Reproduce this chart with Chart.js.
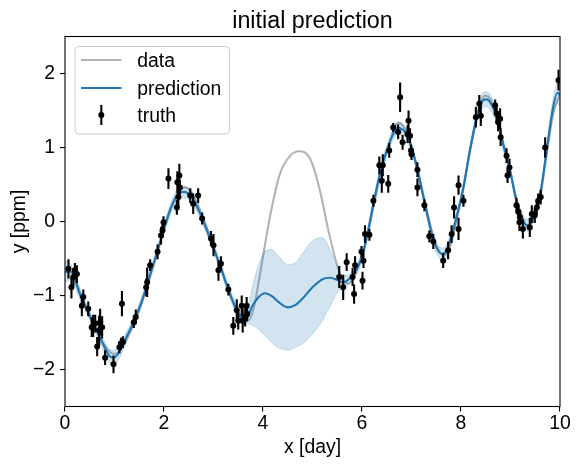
<!DOCTYPE html>
<html>
<head>
<meta charset="utf-8">
<script src="https://cdn.jsdelivr.net/npm/chart.js@4.4.0/dist/chart.umd.min.js"></script>
<style>
  html, body { margin: 0; padding: 0; background: #fff; }
  #wrap { width: 581px; height: 465px; position: relative; }
</style>
</head>
<body>
<div id="wrap"><canvas id="c" width="581" height="465"></canvas></div>
<script>
// ---- data ----
const chartTitle = "initial prediction";
const xLabel = "x [day]";
const yLabel = "y [ppm]";
const xTicks = [0, 2, 4, 6, 8, 10];
const yTicks = [-2, -1, 0, 1, 2];

// gray "data" curve (true signal)
const dataX = [0.0, 0.15, 0.3, 0.45, 0.6, 0.75, 0.9, 1.0, 1.1, 1.25, 1.4, 1.55, 1.7, 1.85, 2.0, 2.15, 2.3, 2.42, 2.55, 2.7, 2.85, 3.0, 3.15, 3.3, 3.45, 3.6, 3.72, 3.82, 3.94, 4.14, 4.34, 4.55, 4.73, 4.95, 5.15, 5.32, 5.49, 5.62, 5.72, 5.83, 5.95, 6.1, 6.25, 6.4, 6.55, 6.68, 6.75, 6.85, 7.0, 7.15, 7.3, 7.45, 7.58, 7.68, 7.8, 7.92, 8.05, 8.2, 8.35, 8.48, 8.6, 8.72, 8.85, 9.0, 9.12, 9.25, 9.35, 9.45, 9.6, 9.73, 9.86, 10.0];
const dataY = [-0.63, -0.70, -0.95, -1.20, -1.42, -1.62, -1.76, -1.79, -1.75, -1.58, -1.36, -1.10, -0.78, -0.45, -0.10, 0.20, 0.40, 0.46, 0.40, 0.20, -0.06, -0.34, -0.62, -0.92, -1.17, -1.31, -1.33, -1.15, -0.71, 0.06, 0.64, 0.89, 0.95, 0.85, 0.42, -0.12, -0.57, -0.80, -0.84, -0.76, -0.55, -0.22, 0.25, 0.70, 1.05, 1.30, 1.33, 1.27, 1.02, 0.62, 0.18, -0.22, -0.42, -0.45, -0.30, 0.05, 0.48, 1.02, 1.50, 1.70, 1.65, 1.42, 1.06, 0.66, 0.30, 0.02, -0.07, 0.02, 0.33, 0.90, 1.45, 1.72];

// blue prediction mean and its standard deviation
const predX = [0.0, 0.12, 0.3, 0.45, 0.6, 0.75, 0.9, 0.98, 1.08, 1.25, 1.4, 1.55, 1.7, 1.85, 2.0, 2.15, 2.3, 2.4, 2.55, 2.7, 2.85, 3.0, 3.15, 3.3, 3.45, 3.6, 3.68, 3.78, 3.9, 4.04, 4.18, 4.3, 4.5, 4.65, 4.8, 5.0, 5.2, 5.35, 5.5, 5.6, 5.7, 5.8, 5.9, 6.0, 6.1, 6.23, 6.36, 6.5, 6.63, 6.73, 6.8, 6.87, 7.0, 7.14, 7.27, 7.41, 7.5, 7.62, 7.7, 7.78, 7.91, 8.05, 8.18, 8.32, 8.45, 8.52, 8.59, 8.72, 8.85, 8.99, 9.12, 9.26, 9.33, 9.4, 9.46, 9.6, 9.73, 9.86, 9.95, 10.0];
const predY = [-0.68, -0.68, -0.98, -1.20, -1.42, -1.63, -1.82, -1.84, -1.78, -1.55, -1.34, -1.08, -0.76, -0.44, -0.10, 0.20, 0.38, 0.40, 0.34, 0.15, -0.09, -0.36, -0.63, -0.92, -1.17, -1.33, -1.30, -1.15, -1.03, -0.97, -1.01, -1.08, -1.16, -1.13, -1.04, -0.89, -0.78, -0.76, -0.79, -0.82, -0.80, -0.73, -0.64, -0.48, -0.20, 0.24, 0.64, 0.96, 1.18, 1.27, 1.25, 1.21, 1.00, 0.64, 0.24, -0.17, -0.35, -0.44, -0.40, -0.26, 0.06, 0.46, 0.96, 1.41, 1.64, 1.65, 1.61, 1.41, 1.05, 0.69, 0.28, 0.01, -0.05, -0.03, 0.06, 0.37, 0.96, 1.54, 1.74, 1.71];
const predSd = [0.15, 0.10, 0.07, 0.06, 0.06, 0.07, 0.09, 0.10, 0.09, 0.07, 0.06, 0.06, 0.06, 0.06, 0.06, 0.07, 0.08, 0.08, 0.07, 0.06, 0.06, 0.06, 0.06, 0.06, 0.06, 0.06, 0.08, 0.25, 0.42, 0.57, 0.63, 0.62, 0.58, 0.57, 0.61, 0.63, 0.56, 0.39, 0.17, 0.09, 0.07, 0.06, 0.06, 0.06, 0.06, 0.06, 0.06, 0.06, 0.07, 0.08, 0.08, 0.07, 0.06, 0.06, 0.06, 0.06, 0.07, 0.08, 0.08, 0.07, 0.06, 0.06, 0.07, 0.08, 0.10, 0.10, 0.10, 0.08, 0.07, 0.06, 0.06, 0.07, 0.08, 0.08, 0.07, 0.07, 0.08, 0.11, 0.14, 0.16];

// black "truth" observations with error bars
const truthX = [0.07, 0.13, 0.17, 0.20, 0.24, 0.34, 0.37, 0.47, 0.54, 0.57, 0.61, 0.65, 0.69, 0.71, 0.75, 0.81, 0.98, 1.10, 1.13, 1.15, 1.17, 1.39, 1.43, 1.64, 1.66, 1.72, 1.87, 1.94, 1.97, 1.99, 2.09, 2.26, 2.27, 2.29, 2.31, 2.32, 2.53, 2.59, 2.69, 2.77, 2.95, 3.00, 3.10, 3.15, 3.30, 3.40, 3.47, 3.50, 3.57, 3.59, 3.64, 3.67, 3.68, 5.54, 5.62, 5.69, 5.81, 5.84, 5.86, 5.99, 6.01, 6.03, 6.06, 6.15, 6.23, 6.35, 6.40, 6.42, 6.53, 6.55, 6.63, 6.73, 6.77, 6.82, 6.92, 6.94, 6.97, 6.99, 7.00, 7.12, 7.12, 7.26, 7.36, 7.44, 7.64, 7.74, 7.81, 7.86, 7.95, 7.95, 8.05, 8.30, 8.37, 8.40, 8.69, 8.72, 8.75, 8.79, 8.80, 8.92, 8.94, 8.98, 9.12, 9.16, 9.18, 9.19, 9.25, 9.39, 9.43, 9.49, 9.53, 9.56, 9.61, 9.70, 9.97];
const truthY = [-0.64, -0.89, -0.75, -0.66, -0.71, -1.14, -1.02, -1.18, -1.43, -1.41, -1.38, -1.69, -1.47, -1.36, -1.43, -1.84, -1.93, -1.70, -1.65, -1.11, -1.63, -1.36, -1.29, -0.89, -0.82, -0.59, -0.41, -0.19, -0.12, -0.01, 0.58, 0.19, 0.53, 0.33, 0.62, 0.46, 0.35, 0.24, 0.35, 0.04, -0.23, -0.32, -0.66, -0.57, -0.92, -1.41, -1.20, -1.34, -1.14, -1.34, -1.29, -1.14, -1.25, -0.75, -0.89, -0.55, -0.75, -0.98, -0.59, -0.41, -0.80, -0.53, -0.17, -0.18, 0.28, 0.76, 0.55, 0.76, 0.51, 0.96, 1.27, 1.21, 1.68, 1.07, 1.18, 1.36, 1.16, 0.96, 0.91, 0.70, 0.46, 0.22, -0.20, -0.27, -0.53, -0.39, -0.17, 0.19, 0.49, -0.10, 0.28, 1.41, 1.59, 1.43, 1.57, 1.46, 1.34, 1.39, 1.14, 0.89, 0.62, 0.73, 0.22, 0.13, -0.01, 0.06, -0.10, -0.08, 0.10, 0.08, 0.19, 0.28, 0.33, 1.00, 1.91];
const truthErr = [0.13, 0.15, 0.12, 0.10, 0.12, 0.14, 0.10, 0.10, 0.13, 0.15, 0.12, 0.13, 0.20, 0.18, 0.15, 0.10, 0.12, 0.08, 0.08, 0.17, 0.08, 0.08, 0.10, 0.12, 0.20, 0.08, 0.10, 0.12, 0.10, 0.08, 0.14, 0.10, 0.15, 0.12, 0.16, 0.10, 0.10, 0.14, 0.10, 0.08, 0.10, 0.15, 0.14, 0.10, 0.08, 0.12, 0.15, 0.12, 0.14, 0.16, 0.13, 0.12, 0.10, 0.15, 0.17, 0.12, 0.12, 0.13, 0.12, 0.08, 0.12, 0.10, 0.12, 0.08, 0.08, 0.12, 0.16, 0.15, 0.12, 0.10, 0.06, 0.10, 0.20, 0.10, 0.12, 0.14, 0.10, 0.08, 0.08, 0.10, 0.12, 0.08, 0.08, 0.10, 0.10, 0.12, 0.12, 0.15, 0.13, 0.15, 0.08, 0.14, 0.12, 0.14, 0.08, 0.12, 0.12, 0.14, 0.12, 0.10, 0.10, 0.12, 0.10, 0.10, 0.12, 0.10, 0.13, 0.13, 0.12, 0.10, 0.10, 0.10, 0.10, 0.14, 0.14];

// ---- styling ----
const FONT = "'Liberation Sans', Arial, sans-serif";
const GRAY = "#b3b3b3";
const BLUE = "#1f77b4";
const BAND = "rgba(31,119,180,0.2)";
const BAND_EDGE = "rgba(31,119,180,0.22)";

const pts = (xs, ys) => xs.map((x, i) => ({ x: x, y: ys[i] }));
const upper = predX.map((x, i) => ({ x: x, y: predY[i] + predSd[i] }));
const lower = predX.map((x, i) => ({ x: x, y: predY[i] - predSd[i] }));
const truthPts = truthX.map((x, i) => ({ x: x, y: truthY[i], err: truthErr[i] }));

const errorBars = {
  id: 'errorBars',
  afterDatasetsDraw(chart) {
    const ctx = chart.ctx, xs = chart.scales.x, ys = chart.scales.y, a = chart.chartArea;
    ctx.save();
    ctx.beginPath();
    ctx.rect(a.left, a.top, a.right - a.left, a.bottom - a.top);
    ctx.clip();
    ctx.strokeStyle = '#000';
    ctx.lineWidth = 2.1;
    truthPts.forEach(p => {
      const px = xs.getPixelForValue(p.x);
      ctx.beginPath();
      ctx.moveTo(px, ys.getPixelForValue(p.y - p.err));
      ctx.lineTo(px, ys.getPixelForValue(p.y + p.err));
      ctx.stroke();
    });
    ctx.fillStyle = '#000';
    truthPts.forEach(p => {
      ctx.beginPath();
      ctx.arc(xs.getPixelForValue(p.x), ys.getPixelForValue(p.y), 3.0, 0, Math.PI * 2);
      ctx.fill();
    });
    ctx.restore();
  }
};

const frameTitleLegend = {
  id: 'frameTitleLegend',
  afterDraw(chart) {
    const ctx = chart.ctx, a = chart.chartArea;
    ctx.save();
    // spines
    ctx.strokeStyle = '#000';
    ctx.lineWidth = 1.1;
    ctx.strokeRect(a.left, a.top, a.right - a.left, a.bottom - a.top);
    // title
    ctx.fillStyle = '#000';
    ctx.font = "23.3px " + FONT;
    ctx.textAlign = 'center';
    ctx.textBaseline = 'alphabetic';
    ctx.fillText(chartTitle, (a.left + a.right) / 2, 28);
    // legend box
    const bx = 75, by = 46.5, bw = 154.5, bh = 87.5, r = 4;
    ctx.beginPath();
    ctx.moveTo(bx + r, by);
    ctx.lineTo(bx + bw - r, by);
    ctx.quadraticCurveTo(bx + bw, by, bx + bw, by + r);
    ctx.lineTo(bx + bw, by + bh - r);
    ctx.quadraticCurveTo(bx + bw, by + bh, bx + bw - r, by + bh);
    ctx.lineTo(bx + r, by + bh);
    ctx.quadraticCurveTo(bx, by + bh, bx, by + bh - r);
    ctx.lineTo(bx, by + r);
    ctx.quadraticCurveTo(bx, by, bx + r, by);
    ctx.closePath();
    ctx.fillStyle = 'rgba(255,255,255,0.8)';
    ctx.fill();
    ctx.strokeStyle = '#cccccc';
    ctx.lineWidth = 1;
    ctx.stroke();
    const items = [
      { label: 'data', kind: 'line', color: GRAY, y: 60 },
      { label: 'prediction', kind: 'line', color: BLUE, y: 88 },
      { label: 'truth', kind: 'err', color: '#000', y: 115 }
    ];
    items.forEach(it => {
      if (it.kind === 'line') {
        ctx.strokeStyle = it.color;
        ctx.lineWidth = 2.1;
        ctx.beginPath();
        ctx.moveTo(81, it.y);
        ctx.lineTo(121.5, it.y);
        ctx.stroke();
      } else {
        ctx.strokeStyle = '#000';
        ctx.lineWidth = 2.1;
        ctx.beginPath();
        ctx.moveTo(101.3, it.y - 10);
        ctx.lineTo(101.3, it.y + 10);
        ctx.stroke();
        ctx.fillStyle = '#000';
        ctx.beginPath();
        ctx.arc(101.3, it.y, 3.0, 0, Math.PI * 2);
        ctx.fill();
      }
      ctx.fillStyle = '#000';
      ctx.font = "19.4px " + FONT;
      ctx.textAlign = 'left';
      ctx.textBaseline = 'alphabetic';
      ctx.fillText(it.label, 137.3, it.y + 6.8);
    });
    ctx.restore();
  }
};

const tickFont = { family: FONT, size: 19.4 };

new Chart(document.getElementById('c'), {
  type: 'scatter',
  data: {
    datasets: [
      { label: 'truth', data: truthPts, pointRadius: 0, showLine: false, order: 0 },
      { label: 'prediction', data: pts(predX, predY), showLine: true, borderColor: BLUE, borderWidth: 2.1,
        pointRadius: 0, fill: false, cubicInterpolationMode: 'monotone', order: 1 },
      { label: 'upper', data: upper, showLine: true, borderColor: BAND_EDGE, borderWidth: 1,
        backgroundColor: BAND, pointRadius: 0, fill: '+1', cubicInterpolationMode: 'monotone', order: 2 },
      { label: 'lower', data: lower, showLine: true, borderColor: BAND_EDGE, borderWidth: 1,
        pointRadius: 0, fill: false, cubicInterpolationMode: 'monotone', order: 2 },
      { label: 'data', data: pts(dataX, dataY), showLine: true, borderColor: GRAY, borderWidth: 2.1,
        pointRadius: 0, fill: false, cubicInterpolationMode: 'monotone', order: 3 }
    ]
  },
  options: {
    responsive: false,
    animation: false,
    devicePixelRatio: 1,
    layout: { padding: { top: 36.5, right: 21, bottom: 0, left: 0 } },
    plugins: { legend: { display: false }, tooltip: { enabled: false }, title: { display: false } },
    scales: {
      x: {
        type: 'linear', min: 0, max: 10,
        afterFit: s => { s.height = 58.5; },
        afterBuildTicks: s => { s.ticks = xTicks.map(v => ({ value: v })); },
        ticks: { font: tickFont, color: '#000', padding: 1, maxRotation: 0, autoSkip: false,
                 callback: v => String(v) },
        grid: { display: true, drawOnChartArea: false, drawTicks: true, tickLength: 5, color: '#000', lineWidth: 1.1 },
        border: { display: false },
        title: { display: true, text: xLabel, font: { family: FONT, size: 19.4 }, color: '#000', padding: { top: 0, bottom: 6 } }
      },
      y: {
        type: 'linear', min: -2.5, max: 2.5,
        afterFit: s => { s.width = 65; },
        afterBuildTicks: s => { s.ticks = yTicks.map(v => ({ value: v })); },
        ticks: { font: tickFont, color: '#000', padding: 5, autoSkip: false,
                 callback: v => String(v).replace('-', '\u2212') },
        grid: { display: true, drawOnChartArea: false, drawTicks: true, tickLength: 5, color: '#000', lineWidth: 1.1 },
        border: { display: false },
        title: { display: true, text: yLabel, font: { family: FONT, size: 19.4 }, color: '#000', padding: { top: 8, bottom: 0 } }
      }
    }
  },
  plugins: [errorBars, frameTitleLegend]
});
</script>
</body>
</html>
